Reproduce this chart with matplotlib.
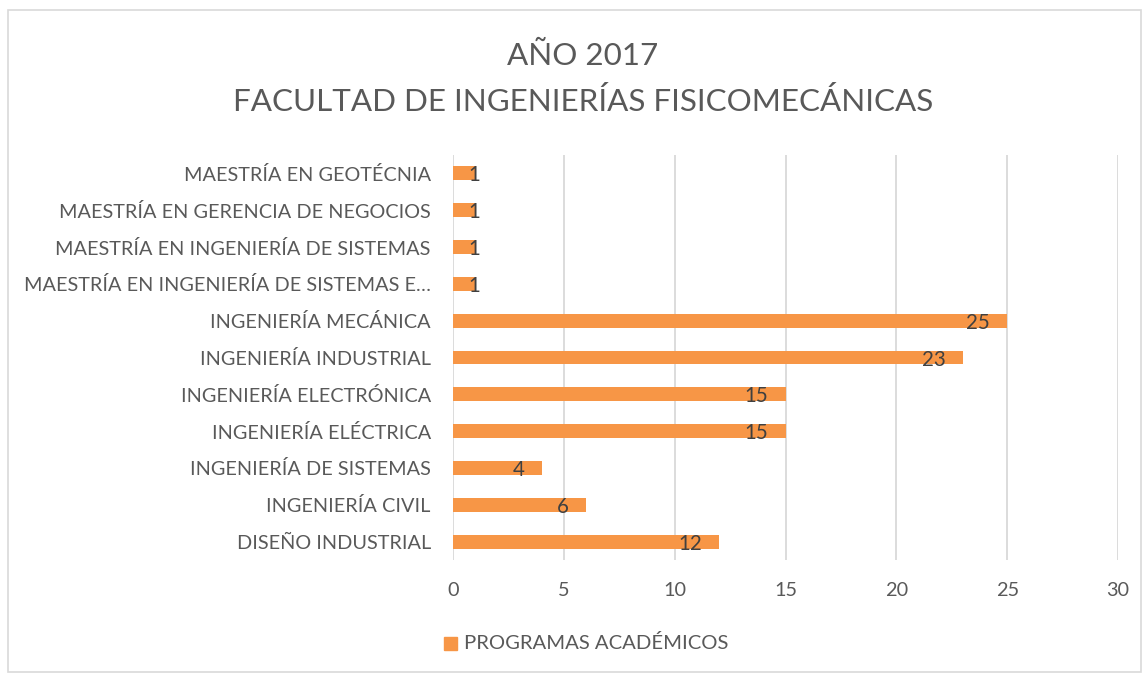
import matplotlib
matplotlib.use("Agg")
import matplotlib.pyplot as plt
from matplotlib.patches import Rectangle
from matplotlib.transforms import offset_copy

categories = [
    "DISEÑO INDUSTRIAL",
    "INGENIERÍA CIVIL",
    "INGENIERÍA DE SISTEMAS",
    "INGENIERÍA ELÉCTRICA",
    "INGENIERÍA ELECTRÓNICA",
    "INGENIERÍA INDUSTRIAL",
    "INGENIERÍA MECÁNICA",
    "MAESTRÍA EN INGENIERÍA DE SISTEMAS E…",
    "MAESTRÍA EN INGENIERÍA DE SISTEMAS",
    "MAESTRÍA EN GERENCIA DE NEGOCIOS",
    "MAESTRÍA EN GEOTÉCNIA",
]
values = [12, 6, 4, 15, 15, 23, 25, 1, 1, 1, 1]
xticks = [0, 5, 10, 15, 20, 25, 30]
series_name = "PROGRAMAS ACADÉMICOS"
title = "AÑO 2017\nFACULTAD DE INGENIERÍAS FISICOMECÁNICAS"

plt.rcParams['font.family'] = ['Lato', 'DejaVu Sans']
BAR = "#F79646"
TXT = "#595959"
GRID = "#D9D9D9"

W, H = 1146, 675
fig = plt.figure(figsize=(W / 100, H / 100), dpi=100)
fig.patch.set_facecolor("white")

# outer frame
fig.add_artist(Rectangle((8 / W, 1 - 672 / H), (1141 - 8) / W, (672 - 10) / H,
                         transform=fig.transFigure, fill=False, edgecolor=GRID, lw=1.2))

ax = fig.add_axes([453 / W, 1 - 560 / H, (1118 - 453) / W, (560 - 155) / H])
y = list(range(len(categories)))
ax.barh(y, values, height=0.38, color=BAR, zorder=3)
ax.set_xlim(0, 30)
ax.set_ylim(-0.5, len(categories) - 0.5)
ax.set_xticks(xticks)
ax.set_xticklabels([str(t) for t in xticks])
ax.set_yticks(y)
ax.set_yticklabels(categories)
for s in ax.spines.values():
    s.set_visible(False)
ax.tick_params(axis="both", length=0, colors=TXT, labelsize=14.3)
ax.tick_params(axis="x", pad=16)
ax.tick_params(axis="y", pad=16)
ax.grid(axis="x", color=GRID, lw=1.3, zorder=0)
ax.set_axisbelow(True)

ppu = (1118 - 453) / 30.0
for yi, v in zip(y, values):
    if v * ppu < 40:
        dx = 5 * 72 / 100
    else:
        dx = -17 * 72 / 100
    tr = offset_copy(ax.transData, fig=fig, x=dx, y=-2 * 72 / 100, units="points")
    ax.text(v, yi, str(v), transform=tr, ha="right", va="center",
            fontsize=14.8, color="#404040", zorder=4)

fig.text(583 / W, 1 - 79 / H, title, ha="center", va="center",
         fontsize=22.6, color=TXT, linespacing=1.72)

# legend
fig.add_artist(Rectangle((444 / W, 1 - 650 / H), 13 / W, 13 / H,
                         transform=fig.transFigure, color=BAR))
fig.text(464 / W, 1 - 643 / H, series_name, ha="left", va="center",
         fontsize=14.6, color=TXT)

fig.savefig("out.png", dpi=100, facecolor="white")
